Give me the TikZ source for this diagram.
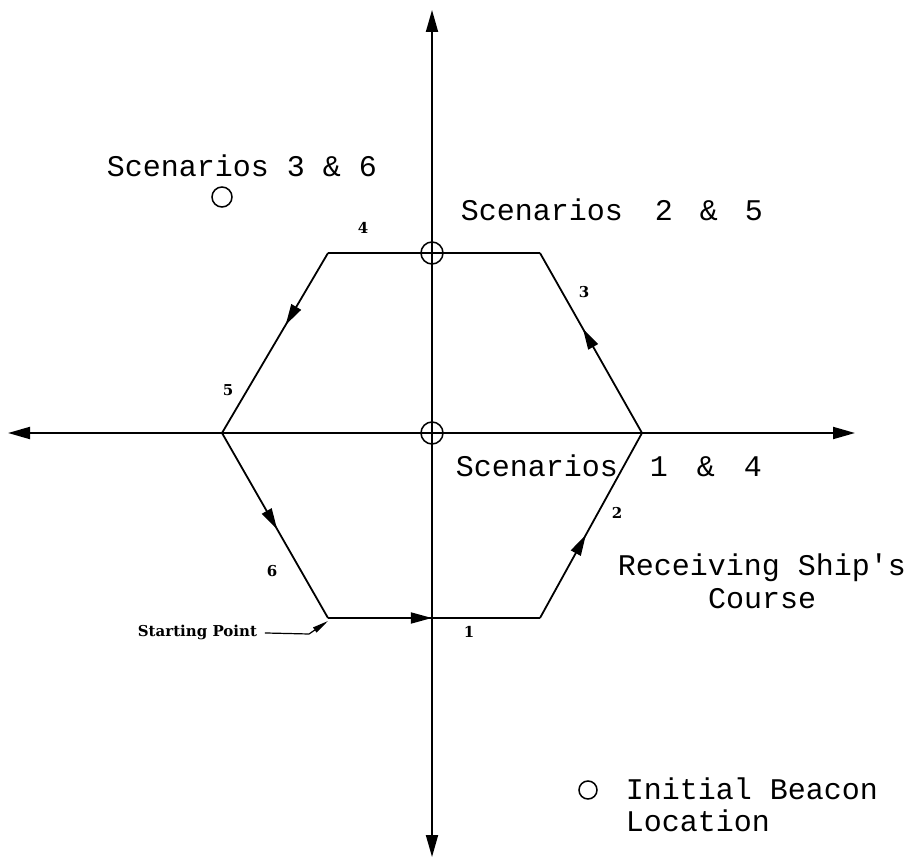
\documentclass[tikz,border=0pt]{standalone}
\usepackage{fontspec}
\setmainfont{Liberation Serif}
\newfontfamily\monof{Liberation Mono}
\newfontfamily\labf{DejaVu Serif}
\usetikzlibrary{arrows.meta,decorations.markings}
\begin{document}
\begin{tikzpicture}[x=1pt,y=-1pt,line width=1.8pt,
  bigtext/.style={font=\monof\fontsize{30}{30}\selectfont,inner sep=0pt},
  numlab/.style={font=\labf\bfseries\fontsize{15}{15}\selectfont,inner sep=0pt},
  axisarrow/.style={-{Triangle[length=22pt,width=12pt]}},
  midarrow/.style={postaction={decorate},decoration={markings,
     mark=at position #1 with {\arrow{Triangle[length=21pt,width=11pt]}}}},
  ring/.style={circle,draw,inner sep=0pt,minimum size=#1,line width=1.5pt}]
\useasboundingbox (0,0) rectangle (910,858);
% axes
\coordinate (O) at (432,433);
\coordinate (L) at (8,433);
\coordinate (R) at (855,433);
\coordinate (T) at (432,10);
\coordinate (Bt) at (432,857);
\draw[axisarrow] (O) -- (L);
\draw[axisarrow] (O) -- (R);
\draw[axisarrow] (O) -- (T);
\draw[axisarrow] (O) -- (Bt);
% hexagon
\coordinate (A) at (328,253);
\coordinate (B) at (540,253);
\coordinate (C) at (642,433);
\coordinate (D) at (540,618);
\coordinate (E) at (328,618);
\coordinate (F) at (222,433);
\draw[midarrow=0.49] (E) -- (D);
\draw[midarrow=0.45] (D) -- (C);
\draw[midarrow=0.58] (C) -- (B);
\draw (B) -- (A);
\draw[midarrow=0.40] (A) -- (F);
\draw[midarrow=0.52] (F) -- (E);
% circles
\node[ring=22pt] (c25) at (432,253) {};
\node[ring=22pt] (c14) at (432,433) {};
\node[ring=20pt] (c36) at (222,197) {};
\node[ring=18pt] (cb) at (588,790) {};
% edge labels
\node[numlab] (n1) at (469,632) {1};
\node[numlab] (n2) at (617,513) {2};
\node[numlab] (n3) at (584,292) {3};
\node[numlab] (n4) at (363,228) {4};
\node[numlab] (n5) at (228,390) {5};
\node[numlab] (n6) at (272,571) {6};
% texts
\node[bigtext,anchor=base west] (s36) at (106,177) {Scenarios 3 \& 6};
\node[bigtext,anchor=base west] (s25) at (460,221) {Scenarios\hspace{14pt} 2\hspace{9pt} \&\hspace{9pt} 5};
\node[bigtext,anchor=base west] (s14) at (455,476) {Scenarios\hspace{14pt} 1\hspace{11pt} \&\hspace{11pt} 4};
\node[bigtext,anchor=base] (rs) at (762,575) {Receiving Ship's};
\node[bigtext,anchor=base] (co) at (762,608) {Course};
\node[bigtext,anchor=base west] (ib) at (625,799) {Initial Beacon};
\node[bigtext,anchor=base west] (lo) at (625,831) {Location};
% starting point
\node[numlab,anchor=base west] (sp) at (137,636) {Starting Point};
\coordinate (sp1) at (309,634);
\coordinate (sp2) at (328,621);
\draw[line width=1.2pt,-{Triangle[length=16pt,width=6pt]}] ([xshift=7pt,yshift=-1pt]sp.east) -- (sp1) -- (sp2);
\end{tikzpicture}
\end{document}
